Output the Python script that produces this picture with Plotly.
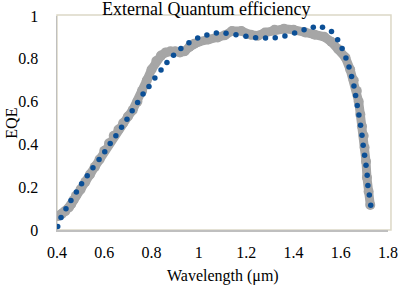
import plotly.graph_objects as go

# Measured EQE (gray)
meas_wl = [0.405, 0.42, 0.435, 0.45, 0.46, 0.47, 0.48, 0.50, 0.52, 0.54, 0.56, 0.58,
           0.60, 0.62, 0.64, 0.66, 0.68, 0.70, 0.72, 0.74, 0.76, 0.78, 0.80, 0.82,
           0.84, 0.86, 0.88, 0.90, 0.92, 0.94, 0.96, 0.98, 1.00, 1.04, 1.08, 1.11,
           1.14, 1.18, 1.22, 1.25, 1.28, 1.32, 1.36, 1.40, 1.45, 1.49, 1.53, 1.56,
           1.59, 1.62, 1.64, 1.655, 1.668, 1.676, 1.683, 1.69, 1.697, 1.701, 1.707,
           1.711, 1.718, 1.725]
meas_eqe = [0.065, 0.075, 0.088, 0.105, 0.12, 0.14, 0.16, 0.19, 0.225, 0.26, 0.295, 0.33,
            0.37, 0.405, 0.44, 0.47, 0.50, 0.53, 0.56, 0.60, 0.65, 0.70, 0.75, 0.79,
            0.815, 0.83, 0.835, 0.835, 0.83, 0.835, 0.855, 0.87, 0.88, 0.89, 0.90, 0.91,
            0.93, 0.93, 0.912, 0.908, 0.923, 0.936, 0.94, 0.936, 0.923, 0.912, 0.903, 0.88,
            0.845, 0.806, 0.75, 0.70, 0.65, 0.60, 0.54, 0.485, 0.44, 0.385, 0.32,
            0.245, 0.18, 0.117]

# Simulated EQE (blue dots)
sim_wl = [0.403, 0.417, 0.438, 0.459, 0.482, 0.504, 0.528, 0.552, 0.578, 0.602, 0.625,
          0.649, 0.673, 0.696, 0.718, 0.741, 0.764, 0.789, 0.814, 0.840, 0.865, 0.893,
          0.924, 0.958, 0.995, 1.034, 1.074, 1.115, 1.157, 1.199, 1.240, 1.282, 1.323,
          1.364, 1.405, 1.445, 1.484, 1.523, 1.561, 1.587, 1.606, 1.622, 1.635, 1.646,
          1.656, 1.663, 1.670, 1.677, 1.684, 1.690, 1.695, 1.701, 1.707, 1.712, 1.715,
          1.721, 1.727]
sim_eqe = [0.016, 0.058, 0.099, 0.138, 0.177, 0.216, 0.254, 0.291, 0.329, 0.366, 0.404,
           0.441, 0.480, 0.518, 0.557, 0.596, 0.635, 0.671, 0.710, 0.748, 0.783, 0.817,
           0.848, 0.875, 0.897, 0.911, 0.920, 0.919, 0.912, 0.905, 0.898, 0.897, 0.898,
           0.906, 0.920, 0.936, 0.947, 0.947, 0.927, 0.889, 0.848, 0.804, 0.762, 0.717,
           0.673, 0.628, 0.582, 0.537, 0.490, 0.443, 0.396, 0.349, 0.302, 0.256, 0.208,
           0.164, 0.116]

x_ticks = [0.4, 0.6, 0.8, 1.0, 1.2, 1.4, 1.6, 1.8]
x_tick_text = ["0.4", "0.6", "0.8", "1", "1.2", "1.4", "1.6", "1.8"]
y_ticks = [0, 0.2, 0.4, 0.6, 0.8, 1.0]
y_tick_text = ["0", "0.2", "0.4", "0.6", "0.8", "1"]

FONT = "Liberation Serif, Times New Roman, serif"
GRAY = "#a6a6a6"
BLUE = "#0b4f96"

fig = go.Figure()
fig.add_trace(go.Scatter(x=meas_wl, y=meas_eqe, mode="lines+markers",
                         line=dict(color=GRAY, width=9),
                         marker=dict(color=GRAY, size=10),
                         showlegend=False, hoverinfo="skip"))
fig.add_trace(go.Scatter(x=sim_wl, y=sim_eqe, mode="markers",
                         marker=dict(color=BLUE, size=5.5),
                         showlegend=False, hoverinfo="skip"))

fig.add_shape(type="rect", xref="paper", yref="paper", x0=0, y0=0, x1=1.009, y1=1.005,
              line=dict(color="#dcd8c6", width=1.5), layer="below")

fig.update_layout(
    width=401, height=285,
    margin=dict(l=57, r=13, t=16, b=55, autoexpand=False),
    paper_bgcolor="white", plot_bgcolor="white",
    font=dict(family=FONT, color="black", size=16),
    xaxis=dict(range=[0.4, 1.8], tickvals=x_ticks, ticktext=x_tick_text,
               showgrid=False, zeroline=False, showline=True, linecolor="#bfbfbf",
               linewidth=1.5, ticks="", ticklabelstandoff=7, automargin=False,
               tickfont=dict(family=FONT, size=16, color="black")),
    yaxis=dict(range=[0, 1.0], tickvals=y_ticks, ticktext=y_tick_text,
               showgrid=False, zeroline=False, showline=True, linecolor="#bfbfbf",
               linewidth=1.5, ticks="", ticklabelstandoff=14, automargin=False,
               tickfont=dict(family=FONT, size=16, color="black")),
    annotations=[
        dict(text="External Quantum efficiency", xref="paper", yref="paper",
             x=0.452, y=1.035, xanchor="center", yanchor="middle", showarrow=False,
             font=dict(family=FONT, size=18, color="black")),
        dict(text="Wavelength (μm)", xref="paper", yref="paper",
             x=0.5, y=-0.215, xanchor="center", yanchor="middle", showarrow=False,
             font=dict(family=FONT, size=16, color="black")),
        dict(text="EQE", xref="paper", yref="paper", textangle=-90,
             x=-0.14, y=0.5, xanchor="center", yanchor="middle", showarrow=False,
             font=dict(family=FONT, size=16, color="black")),
    ],
)

fig.write_html("out.html", config={"displayModeBar": False, "staticPlot": True},
               post_script="document.body.style.margin='0px';")
